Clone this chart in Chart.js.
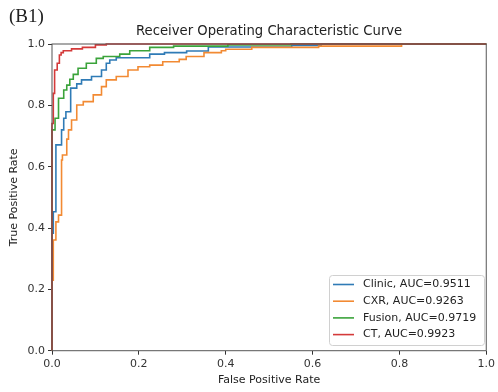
<!DOCTYPE html>
<html>
<head>
<meta charset="utf-8">
<script src="https://cdn.jsdelivr.net/npm/chart.js@4.4.0/dist/chart.umd.min.js"></script>
<style>
  html, body { margin: 0; padding: 0; background: #fff; }
</style>
</head>
<body>
<canvas id="roc" width="498" height="392"></canvas>
<script>
// ROC points (fpr, tpr); drawn as steps
const clinicX = [0, 0, 0.003, 0.009, 0.022, 0.027, 0.032, 0.043, 0.057, 0.068, 0.091, 0.114, 0.125, 0.133, 0.148, 0.225, 0.259, 0.31, 0.36, 0.552, 0.62, 0.70, 1];
const clinicY = [0, 0.249, 0.383, 0.453, 0.671, 0.72, 0.758, 0.779, 0.856, 0.87, 0.883, 0.894, 0.915, 0.937, 0.948, 0.955, 0.967, 0.972, 0.977, 0.99, 0.995, 1.0, 1];

const cxrX = [0, 0, 0.003, 0.009, 0.015, 0.022, 0.024, 0.034, 0.038, 0.045, 0.057, 0.072, 0.095, 0.114, 0.125, 0.148, 0.175, 0.198, 0.225, 0.255, 0.293, 0.309, 0.35, 0.39, 0.40, 0.46, 0.614, 0.805, 0.866, 1];
const cxrY = [0, 0.188, 0.23, 0.361, 0.42, 0.442, 0.622, 0.638, 0.69, 0.72, 0.752, 0.801, 0.812, 0.834, 0.861, 0.883, 0.894, 0.915, 0.926, 0.931, 0.942, 0.95, 0.959, 0.972, 0.978, 0.983, 0.989, 0.993, 1.0, 1];

const fusionX = [0, 0, 0.007, 0.015, 0.027, 0.034, 0.041, 0.049, 0.06, 0.079, 0.102, 0.118, 0.156, 0.179, 0.225, 0.28, 0.405, 0.55, 0.62, 1];
const fusionY = [0, 0.372, 0.72, 0.758, 0.823, 0.85, 0.866, 0.885, 0.901, 0.921, 0.937, 0.953, 0.959, 0.967, 0.978, 0.989, 0.993, 0.997, 1.0, 1];

const ctX = [0, 0, 0.003, 0.006, 0.012, 0.017, 0.021, 0.026, 0.045, 0.07, 0.1, 0.125, 0.163, 1];
const ctY = [0, 0.70, 0.741, 0.839, 0.915, 0.937, 0.964, 0.972, 0.978, 0.984, 0.989, 0.997, 1.0, 1];

const seriesNames = ['Clinic, AUC=0.9511', 'CXR, AUC=0.9263', 'Fusion, AUC=0.9719', 'CT, AUC=0.9923'];
const seriesColors = ['#2f7bb6', '#f28a33', '#3aa33a', '#d43a3a'];
const tickValues = [0, 0.2, 0.4, 0.6, 0.8, 1.0];

const pts = (xs, ys) => xs.map((x, i) => ({ x: x, y: ys[i] }));
const allPts = [pts(clinicX, clinicY), pts(cxrX, cxrY), pts(fusionX, fusionY), pts(ctX, ctY)];

const FONT = 'DejaVu Sans';

const decor = {
  id: 'decor',
  afterDatasetsDraw(chart) {
    const { ctx, chartArea: a } = chart;
    ctx.save();
    ctx.strokeStyle = '#555';
    ctx.lineWidth = 1;
    ctx.strokeRect(a.left, a.top, a.right - a.left, a.bottom - a.top);
    ctx.restore();
  },
  afterDraw(chart) {
    const { ctx, chartArea: a } = chart;
    ctx.save();
    // panel tag
    ctx.fillStyle = '#222';
    ctx.font = '19px "Liberation Serif"';
    ctx.textAlign = 'left';
    ctx.textBaseline = 'middle';
    ctx.fillText('(B1)', 9, 17);
    // title
    ctx.font = '13.2px "' + FONT + '"';
    ctx.textAlign = 'center';
    ctx.fillText('Receiver Operating Characteristic Curve', (a.left + a.right) / 2, 31.5);

    // legend
    const bx = 329, by = 275, bw = 155, bh = 70;
    ctx.fillStyle = 'rgba(255,255,255,0.85)';
    ctx.strokeStyle = '#d0d0d0';
    ctx.lineWidth = 1;
    ctx.beginPath();
    ctx.roundRect(bx + 0.5, by + 0.5, bw, bh, 3);
    ctx.fill();
    ctx.stroke();
    ctx.font = '11px "' + FONT + '"';
    ctx.textAlign = 'left';
    seriesNames.forEach((name, i) => {
      const y = by + 9.5 + i * 16.7;
      ctx.strokeStyle = seriesColors[i];
      ctx.lineWidth = 1.6;
      ctx.beginPath();
      ctx.moveTo(333, y);
      ctx.lineTo(354, y);
      ctx.stroke();
      ctx.fillStyle = '#222';
      ctx.fillText(name, 363, y);
    });
    ctx.restore();
  }
};

const axisCommon = (label, titlePad) => ({
  type: 'linear',
  min: 0,
  max: 1,
  afterBuildTicks: (scale) => { scale.ticks = tickValues.map(v => ({ value: v })); },
  ticks: {
    callback: (v) => Number(v).toFixed(1),
    color: '#333',
    font: { family: FONT, size: 11 },
    padding: 3
  },
  grid: { drawOnChartArea: false, drawTicks: true, tickLength: 4, color: '#333' },
  border: { display: false },
  title: {
    display: true,
    text: label,
    color: '#222',
    font: { family: FONT, size: 11 },
    padding: titlePad
  }
});

const xAxis = axisCommon('False Positive Rate', { top: 2, bottom: 5 });
xAxis.afterFit = (scale) => { scale.height = 41.3; };
const yAxis = axisCommon('True Positive Rate', { top: 8, bottom: 2 });
yAxis.afterFit = (scale) => { scale.width = 52; };

new Chart(document.getElementById('roc'), {
  type: 'line',
  data: {
    datasets: allPts.map((d, i) => ({
      label: seriesNames[i],
      data: d,
      borderColor: seriesColors[i],
      backgroundColor: seriesColors[i],
      borderWidth: 1.6,
      pointRadius: 0,
      stepped: 'after',
      fill: false,
      clip: 3,
      order: 3 - i
    }))
  },
  options: {
    responsive: false,
    devicePixelRatio: 1,
    animation: false,
    layout: { padding: { top: 44, right: 9.5, left: 0, bottom: 0 } },
    scales: { x: xAxis, y: yAxis },
    plugins: {
      legend: { display: false },
      title: { display: false },
      tooltip: { enabled: false }
    }
  },
  plugins: [decor]
});
</script>
</body>
</html>
